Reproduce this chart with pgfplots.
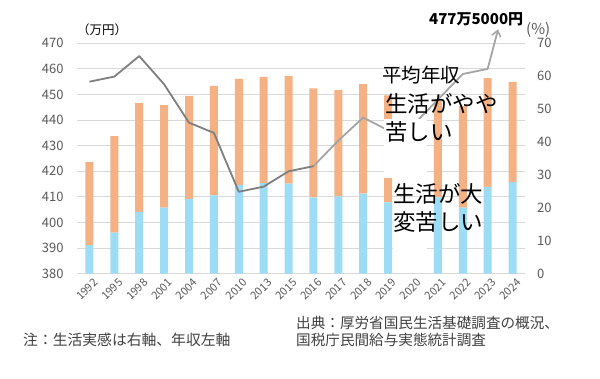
\documentclass[border=0pt]{standalone}
\usepackage{fontspec}
\setmainfont{Noto Sans CJK JP}
\usepackage{pgfplots}
\pgfplotsset{compat=1.18}
\usetikzlibrary{arrows.meta}
\definecolor{barblue}{HTML}{9DDCF5}
\definecolor{barorange}{HTML}{F4B183}
\definecolor{linedark}{HTML}{7F7F7F}
\definecolor{linelight}{HTML}{A5A5A5}
\definecolor{tickgray}{HTML}{595959}
\definecolor{gridgray}{HTML}{D9D9D9}
\definecolor{foot}{HTML}{404040}
\begin{document}
\begin{tikzpicture}[x=1pt,y=1pt]
\useasboundingbox (0,0) rectangle (600,378);
\pgfplotsset{
  base/.style={scale only axis, width=448pt, height=230.4pt, at={(77pt,104.3pt)},
    anchor=south west, xmin=-0.5, xmax=17.5, separate axis lines,
    axis line style={draw=none}, major tick length=0pt,
    /pgf/number format/assume math mode=true,
    tick label style={font=\fontsize{13}{13}\selectfont, text=tickgray}},
}
% grid + left axis
\begin{axis}[base, ymin=380, ymax=470, ytick={380,390,...,470}, ymajorgrids,
  grid style={gridgray, line width=0.9pt}, axis y line*=left, axis x line=none,
  yticklabel style={xshift=-10pt}]
\addplot[draw=none] coordinates {(0,380)};
\end{axis}
% bars, right axis
\begin{axis}[base, ymin=0, ymax=70, ytick={0,10,...,70}, axis y line*=right,
  axis x line*=bottom, xtick={0,...,17},
  xticklabels={1992,1995,1998,2001,2004,2007,2010,2013,2015,2016,2017,2018,2019,2020,2021,2022,2023,2024},
  ybar stacked, bar width=8pt, yticklabel style={xshift=8.5pt},
  xticklabel style={rotate=45, anchor=north east, font=\fontsize{11}{11}\selectfont, xshift=3pt, yshift=-2pt}]
\addplot[fill=barblue, draw=none] coordinates {
(0,8.7) (1,12.5) (2,18.8) (3,20.1) (4,22.7) (5,23.8) (6,27.0) (7,27.5) (8,27.4)
(9,23.2) (10,23.5) (11,24.3) (12,21.7) (14,23.2) (15,20.1) (16,26.4) (17,27.8)};
\addplot[fill=barorange, draw=none] coordinates {
(0,25.2) (1,29.3) (2,33.0) (3,31.1) (4,31.3) (5,33.3) (6,32.2) (7,32.3) (8,32.7)
(9,33.1) (10,32.3) (11,33.3) (12,32.5) (14,29.8) (15,30.9) (16,33.0) (17,30.5)};
\end{axis}
% line, left axis
\begin{axis}[base, ymin=380, ymax=470, hide axis, clip=false]
\addplot[linedark, line width=1.8pt, line join=round] coordinates {
(0,455) (1,457) (2,465) (3,454) (4,439) (5,435) (6,412) (7,414) (8,420) (9,422)};
\addplot[linelight, line width=1.8pt, line join=round, -{Straight Barb[length=6pt,width=9pt,line width=1.5pt]}] coordinates {
(9,422) (10,432) (11,441) (12,436) (13,438) (14,448) (15,458) (16,460) (16.42,475.5)};
\end{axis}
% text boxes (white fill of the box only, text overflows)
\fill[white] (384,200) rectangle (427,259);
\fill[white] (393,116) rectangle (427,168);
% annotations
\node[anchor=base west, inner sep=0pt, font=\fontsize{19.5}{19.5}\selectfont] at (382,295) {平均年収};
\node[anchor=base west, inner sep=0pt, align=left, font=\fontsize{22.5}{28.3}\selectfont] at (385,237) {生活がやや\\苦しい};
\node[anchor=base west, inner sep=0pt, align=left, font=\fontsize{22.5}{28.3}\selectfont] at (393,147) {生活が大\\変苦しい};
\node[anchor=base west, inner sep=0pt, font=\fontsize{15}{15}\selectfont\bfseries] at (429,353) {477万5000円};
\node[anchor=base west, inner sep=0pt, font=\fontsize{12.5}{12.5}\selectfont] at (77,343) {（万円）};
\node[anchor=base west, inner sep=0pt, font=\fontsize{15}{15}\selectfont, text=tickgray] at (526,343) {(\%)};
% footers
\node[anchor=base west, inner sep=0pt, font=\fontsize{14.8}{14.8}\selectfont, text=foot] at (23,32.5) {注：生活実感は右軸、年収左軸};
\node[anchor=base west, inner sep=0pt, align=left, font=\fontsize{14.6}{17.5}\selectfont, text=foot] at (296,32.5) {出典：厚労省国民生活基礎調査の概況、\\国税庁民間給与実態統計調査};
\end{tikzpicture}
\end{document}
